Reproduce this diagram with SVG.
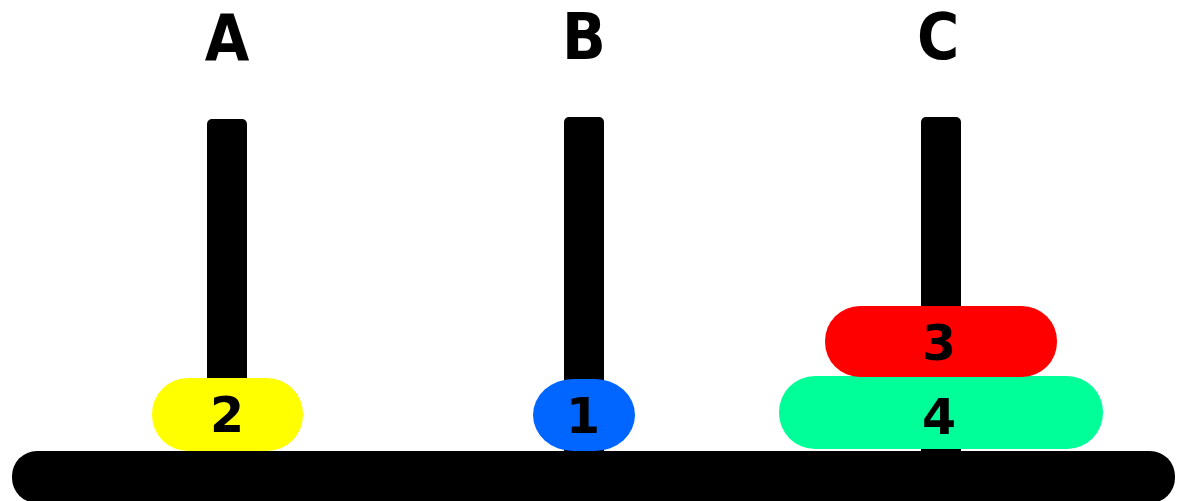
<svg xmlns="http://www.w3.org/2000/svg" width="1180" height="501" viewBox="0 0 1180 501">
<style>
.lbl{font-family:"DejaVu Sans Condensed","DejaVu Sans",sans-serif;font-stretch:condensed;font-weight:bold;font-size:64px;text-anchor:middle;fill:#000}
.num{font-family:"DejaVu Sans",sans-serif;font-weight:bold;font-size:49px;text-anchor:middle;fill:#000}
.peg{fill:#000}
</style>
<rect width="1180" height="501" fill="#fff"/>
<g id="labels">
<text class="lbl" x="227" y="61">A</text>
<text class="lbl" x="584" y="59">B</text>
<text class="lbl" x="938" y="59">C</text>
</g>
<g id="pegs">
<rect id="pegA" class="peg" x="207" y="119" width="40" height="340" rx="5"/>
<rect id="pegB" class="peg" x="564" y="117" width="40" height="340" rx="5"/>
<rect id="pegC" class="peg" x="921" y="117" width="40" height="340" rx="5"/>
</g>
<g id="base"><rect x="12" y="451" width="1163" height="52" rx="25" fill="#000"/></g>
<g id="disk2"><rect x="152" y="378" width="151" height="73" rx="36" fill="#ffff00"/><text class="num" x="227" y="432">2</text></g>
<g id="disk1"><rect x="533" y="379" width="102" height="72" rx="40" ry="36" fill="#0066ff"/><text class="num" x="583" y="433">1</text></g>
<g id="disk4"><rect x="779" y="376" width="324" height="73" rx="36" fill="#00ff99"/><text class="num" x="939" y="434">4</text></g>
<g id="disk3"><rect x="825" y="306" width="232" height="71" rx="35" fill="#ff0000"/><text class="num" x="939" y="360">3</text></g>
</svg>
